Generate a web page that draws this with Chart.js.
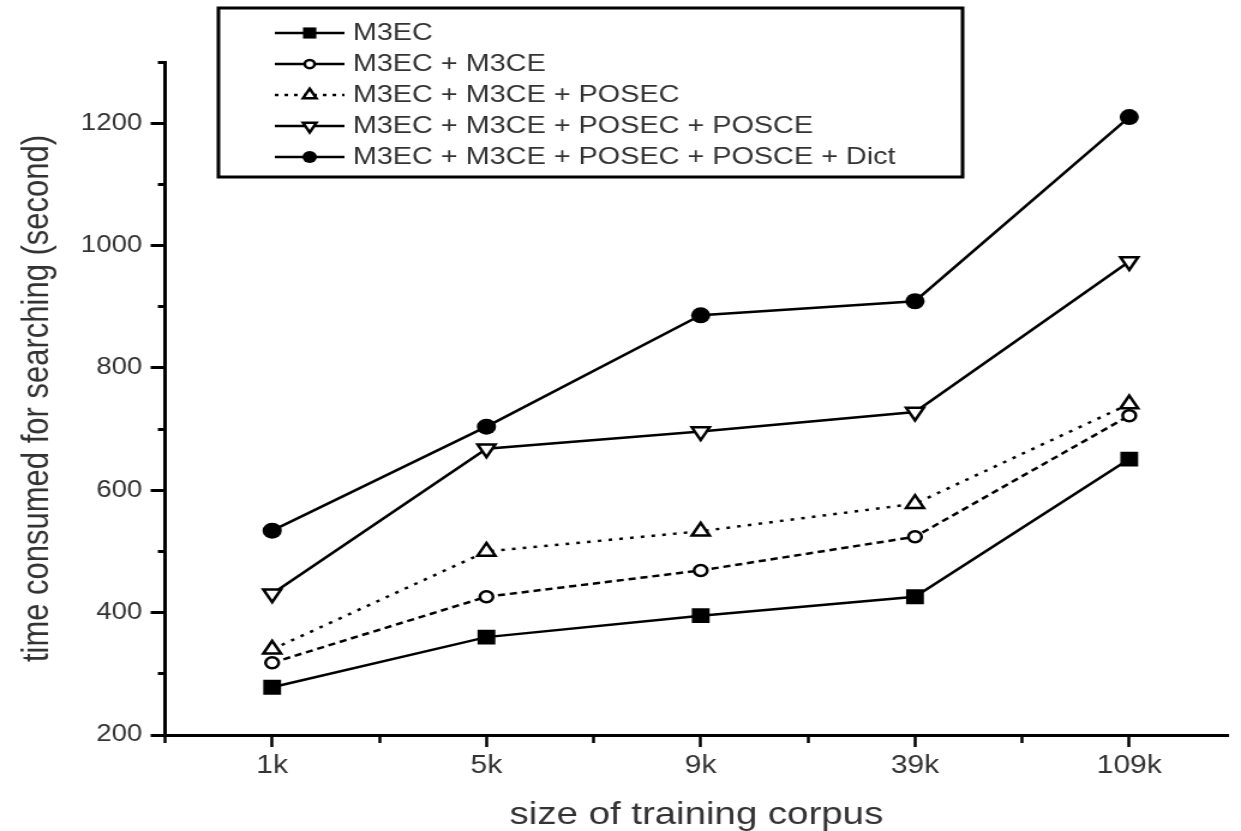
<!DOCTYPE html>
<html>
<head>
<meta charset="utf-8">
<script src="https://cdn.jsdelivr.net/npm/chart.js@4/dist/chart.umd.min.js"></script>
<style>
  html, body { margin: 0; padding: 0; background: #fff; overflow: hidden; }
  /* the reference is stretched sideways, so the chart is laid out narrower and scaled */
  #wrap { width: 1034px; height: 831px; transform: scaleX(1.2002); transform-origin: 0 0; }
</style>
</head>
<body>
<div id="wrap"><canvas id="searchChart"></canvas></div>
<script>
const corpusSizes = ['1k', '5k', '9k', '39k', '109k'];

const seriesNames = [
    'M3EC',
    'M3EC + M3CE',
    'M3EC + M3CE + POSEC',
    'M3EC + M3CE + POSEC + POSCE',
    'M3EC + M3CE + POSEC + POSCE + Dict'
];

const m3ec = [278, 360, 395, 426, 651];
const m3ecM3ce = [318, 426, 469, 524, 722];
const withPosec = [340, 500, 533, 578, 741];
const withPosce = [431, 668, 696, 728, 974];
const withDict = [534, 704, 886, 909, 1210];

const yTicks = { min: 200, max: 1300, step: 100, labelEvery: 200 };

const toPoints = values => values.map((v, i) => ({ x: i, y: v }));

function series(label, values, style) {
    return Object.assign({
        label: label,
        data: toPoints(values),
        borderColor: '#000',
        borderWidth: 2.5,
        tension: 0,
        fill: false,
        pointBorderColor: '#000',
        pointBorderWidth: 2.5,
        pointRotation: 0
    }, style);
}

const datasets = [
    series(seriesNames[0], m3ec, { pointStyle: 'rect', pointRadius: 10.5, pointBackgroundColor: '#000', pointBorderWidth: 0, legendDash: [] }),
    series(seriesNames[1], m3ecM3ce, { pointStyle: 'circle', pointRadius: 5.5, pointBackgroundColor: '#fff', borderDash: [6, 4], legendDash: [] }),
    series(seriesNames[2], withPosec, { pointStyle: 'triangle', pointRadius: 8.5, pointBackgroundColor: '#fff', borderDash: [3, 6], legendDash: [3, 5] }),
    series(seriesNames[3], withPosce, { pointStyle: 'triangle', pointRotation: 180, pointRadius: 8.5, pointBackgroundColor: '#fff', legendDash: [] }),
    series(seriesNames[4], withDict, { pointStyle: 'circle', pointRadius: 8, pointBackgroundColor: '#000', pointBorderWidth: 0, legendDash: [] })
];

const isWhole = v => Math.abs(v - Math.round(v)) < 1e-6;

// legend box: frame, line samples and markers; the text comes from the chart's legend
const legendFrame = {
    id: 'legendFrame',
    beforeDraw(chart) {
        const lg = chart.legend;
        lg.left = 217;
        lg.top = 14;
        lg.right = 1000;
        lg.bottom = 320;
    },
    afterDraw(chart) {
        const ctx = chart.ctx;
        ctx.save();
        ctx.strokeStyle = '#000';
        ctx.lineWidth = 3;
        ctx.strokeRect(182, 8, 620, 169);
        chart.data.datasets.forEach((ds, i) => {
            const y = 33 + i * 31;
            ctx.beginPath();
            ctx.setLineDash(ds.legendDash);
            ctx.lineWidth = 2.5;
            ctx.moveTo(229, y);
            ctx.lineTo(287, y);
            ctx.stroke();
            ctx.setLineDash([]);
            if (Chart.helpers && Chart.helpers.drawPoint) {
                ctx.fillStyle = ds.pointBackgroundColor;
                ctx.strokeStyle = ds.pointBorderColor;
                ctx.lineWidth = ds.pointBorderWidth;
                Chart.helpers.drawPoint(ctx, {
                    pointStyle: ds.pointStyle,
                    radius: ds.pointRadius * 0.75,
                    borderWidth: ds.pointBorderWidth,
                    rotation: ds.pointRotation
                }, 258, y);
            }
        });
        ctx.restore();
    }
};

new Chart(document.getElementById('searchChart'), {
    type: 'line',
    data: { datasets: datasets },
    plugins: [legendFrame],
    options: {
        responsive: true,
        maintainAspectRatio: false,
        animation: false,
        layout: { padding: { top: 62, right: 0, left: 0, bottom: 0 } },
        plugins: {
            tooltip: { enabled: false },
            legend: {
                position: 'chartArea',
                align: 'start',
                labels: {
                    boxWidth: 58,
                    boxHeight: 0,
                    padding: 7,
                    color: '#333',
                    font: { family: 'Liberation Sans', size: 24 },
                    generateLabels: chart => chart.data.datasets.map((ds, i) => ({
                        text: ds.label,
                        fillStyle: 'rgba(0,0,0,0)',
                        strokeStyle: 'rgba(0,0,0,0)',
                        lineWidth: 0,
                        hidden: false,
                        datasetIndex: i,
                        fontColor: '#333'
                    }))
                }
            }
        },
        scales: {
            x: {
                type: 'linear',
                min: -0.5,
                max: 4.46,
                afterFit: s => { s.height = 96; },
                border: { display: true, color: '#000', width: 3 },
                grid: {
                    drawOnChartArea: false,
                    drawTicks: true,
                    tickLength: 12,
                    tickColor: '#000',
                    tickWidth: 2.5,
                    tickBorderDash: ctx => isWhole(ctx.tick.value) ? [] : [6, 20]
                },
                ticks: {
                    stepSize: 0.5,
                    includeBounds: false,
                    autoSkip: false,
                    maxRotation: 0,
                    padding: 4,
                    color: '#333',
                    font: { family: 'Liberation Sans', size: 25 },
                    callback: v => isWhole(v) ? (corpusSizes[Math.round(v)] || '') : ''
                },
                title: {
                    display: true,
                    text: 'size of training corpus',
                    color: '#333',
                    font: { family: 'Liberation Sans', size: 32, lineHeight: 1 },
                    padding: { top: 0, bottom: 0 }
                }
            },
            y: {
                min: yTicks.min,
                max: yTicks.max,
                afterFit: s => { s.width = 137.5; },
                border: { display: true, color: '#000', width: 3 },
                grid: {
                    drawOnChartArea: false,
                    drawTicks: true,
                    tickLength: 12,
                    tickColor: '#000',
                    tickWidth: 3,
                    tickBorderDash: ctx => ctx.tick.value % yTicks.labelEvery === 0 ? [] : [0, 6, 20, 0]
                },
                ticks: {
                    stepSize: yTicks.step,
                    autoSkip: false,
                    padding: 7,
                    color: '#333',
                    font: { family: 'Liberation Sans', size: 23 },
                    callback: v => v % yTicks.labelEvery === 0 ? v : ''
                },
                title: {
                    display: true,
                    text: 'time consumed for searching (second)',
                    color: '#333',
                    font: { family: 'Liberation Sans', size: 31, lineHeight: 1 },
                    padding: { top: 16, bottom: 0 }
                }
            }
        }
    }
});
</script>
</body>
</html>
